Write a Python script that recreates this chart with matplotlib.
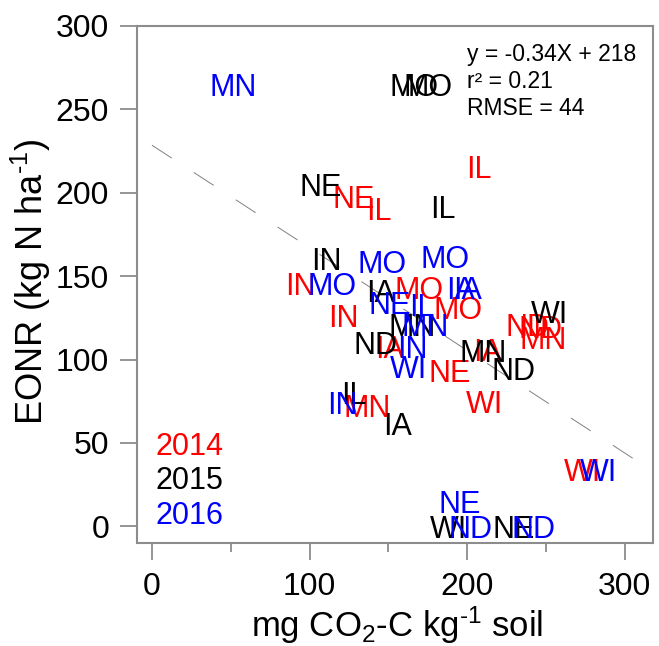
import matplotlib
matplotlib.use('Agg')
import matplotlib.pyplot as plt
from matplotlib.ticker import FixedLocator

plt.rcParams['font.family'] = ['Liberation Sans', 'DejaVu Sans']
plt.rcParams['mathtext.fontset'] = 'custom'
plt.rcParams['mathtext.rm'] = 'Liberation Sans'
plt.rcParams['mathtext.it'] = 'Liberation Sans:italic'
plt.rcParams['mathtext.bf'] = 'Liberation Sans:bold'
plt.rcParams['lines.scale_dashes'] = False

# ---- data ----
states_2014 = ['NE', 'IL', 'IL', 'IN', 'MO', 'MO', 'IN', 'IA', 'NE', 'IA', 'WI', 'ND', 'ND', 'MN', 'MN', 'WI']
x_2014 = [127.8, 143.7, 207.2, 94.0, 169.7, 194.0, 121.5, 151.0, 189.0, 213.0, 211.0, 238.4, 246.7, 248.6, 136.7, 273.0]
y_2014 = [198.0, 190.4, 216.0, 145.5, 143.0, 131.0, 126.5, 108.0, 93.5, 106.0, 75.0, 121.0, 120.0, 113.0, 72.5, 34.0]

states_2015 = ['MO', 'MO', 'NE', 'IL', 'IN', 'IA', 'ND', 'MN', 'MN', 'ND', 'WI', 'IL', 'IA', 'WI', 'NE']
x_2015 = [166.6, 175.5, 106.8, 184.4, 110.6, 145.0, 141.8, 165.0, 210.4, 229.5, 252.0, 128.4, 155.8, 188.0, 229.5]
y_2015 = [264.7, 264.7, 204.8, 191.6, 160.5, 141.5, 110.0, 121.0, 105.5, 94.6, 128.7, 80.0, 61.7, 0.0, 0.0]

states_2016 = ['MN', 'MO', 'MO', 'MO', 'IA', 'IA', 'NE', 'IL', 'MN', 'IN', 'WI', 'IN', 'NE', 'ND', 'ND', 'WI']
x_2016 = [51.5, 146.2, 186.3, 114.4, 196.0, 200.0, 150.7, 171.0, 173.6, 165.0, 162.7, 121.0, 195.0, 202.0, 242.0, 283.5]
y_2016 = [264.7, 158.7, 162.0, 145.5, 143.0, 143.0, 134.0, 133.0, 121.0, 108.0, 96.0, 74.0, 15.0, 0.0, 0.0, 34.0]

years = ['2014', '2015', '2016']
fit_x = [0, 318]
fit_intercept = 228.5
fit_slope = -0.615
eq_lines = ['y = -0.34X + 218', 'r\u00b2 = 0.21', 'RMSE = 44']

x_ticks_major = [0, 100, 200, 300]
x_ticks_minor = [50, 150, 250]
y_ticks = [0, 50, 100, 150, 200, 250, 300]

# ---- style ----
colors = ['#FF0000', '#000000', '#0000FF']
gray = '#8c8c8c'

fig = plt.figure(figsize=(6.59, 6.46), dpi=100)
ax = fig.add_axes([0.2079, 0.1594, 0.7830, 0.8004])
ax.set_xlim(-9.5, 318)
ax.set_ylim(-10, 300)

# fit line
fit_y = [fit_intercept + fit_slope * v for v in fit_x]
ax.plot(fit_x, fit_y, color='#808080', lw=0.7, dashes=(17, 19), zorder=1)

series = [(states_2014, x_2014, y_2014), (states_2015, x_2015, y_2015), (states_2016, x_2016, y_2016)]
for (labs, xs, ys), c in zip(series, colors):
    for lab, xv, yv in zip(labs, xs, ys):
        ax.text(xv, yv, lab, color=c, fontsize=22, ha='center', va='center_baseline', zorder=3)

# legend texts
for i, (yr, c) in enumerate(zip(years, colors)):
    ax.text(0.035, 0.193 - i * 0.067, yr, color=c, fontsize=22, ha='left', va='center_baseline',
            transform=ax.transAxes)

# equation
for i, t in enumerate(eq_lines):
    ax.text(0.640, 0.950 - i * 0.0525, t, color='black', fontsize=16.5, ha='left', va='center_baseline',
            transform=ax.transAxes)

ax.xaxis.set_major_locator(FixedLocator(x_ticks_major))
ax.xaxis.set_minor_locator(FixedLocator(x_ticks_minor))
ax.yaxis.set_major_locator(FixedLocator(y_ticks))

for s in ax.spines.values():
    s.set_color(gray)
    s.set_linewidth(1.5)

ax.tick_params(axis='both', which='major', length=12, width=1.3, color=gray, labelsize=23, pad=8)
ax.tick_params(axis='x', which='minor', length=6.5, width=1.3, color=gray)
ax.tick_params(axis='x', which='major', pad=9)

ax.set_ylabel('EONR (kg N ha$^{\u20101}$)', fontsize=26)
ax.set_xlabel('mg CO$_2$-C kg$^{\u20101}$ soil', fontsize=25)
ax.yaxis.set_label_coords(-0.163, 0.505)
ax.xaxis.set_label_coords(0.505, -0.118)

fig.savefig('out.png', dpi=100)
